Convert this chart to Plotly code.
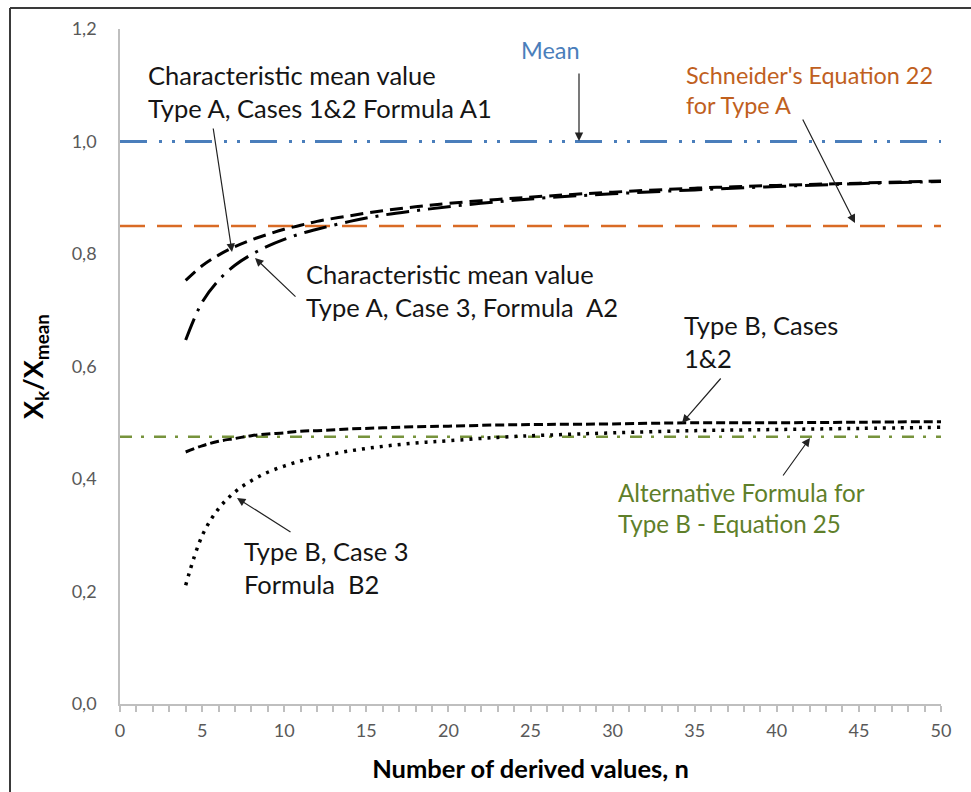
import plotly.graph_objects as go

# Number of derived values
n_values = [4, 5, 6, 7, 8, 9, 10, 11, 12, 14, 16, 18, 20, 23, 26, 30, 35, 40, 45, 50]

# Characteristic mean value, Type A, Cases 1&2 (Formula A1)
type_a_cases12 = [0.753, 0.779, 0.798, 0.813, 0.825, 0.835, 0.844, 0.851, 0.858, 0.868,
                  0.877, 0.884, 0.890, 0.897, 0.903, 0.910, 0.917, 0.922, 0.926, 0.930]
# Characteristic mean value, Type A, Case 3 (Formula A2)
type_a_case3 = [0.647, 0.714, 0.753, 0.780, 0.799, 0.814, 0.826, 0.836, 0.844, 0.858,
                0.869, 0.877, 0.884, 0.893, 0.900, 0.907, 0.914, 0.920, 0.925, 0.929]
# Type B, Cases 1&2
type_b_cases12 = [0.448, 0.459, 0.467, 0.472, 0.477, 0.480, 0.482, 0.485, 0.486, 0.489,
                  0.491, 0.493, 0.494, 0.496, 0.497, 0.498, 0.500, 0.500, 0.501, 0.502]
# Type B, Case 3 (Formula B2)
type_b_case3 = [0.211, 0.299, 0.347, 0.377, 0.397, 0.412, 0.423, 0.432, 0.439, 0.450,
                0.458, 0.464, 0.468, 0.474, 0.478, 0.482, 0.486, 0.488, 0.490, 0.492]

# Constant reference levels across the whole n range
level_span = [0, 50]
mean_level = 1.0
schneider_eq22 = 0.85
alt_formula_eq25 = 0.475

x_ticks = [0, 5, 10, 15, 20, 25, 30, 35, 40, 45, 50]
y_ticks = [0.0, 0.2, 0.4, 0.6, 0.8, 1.0, 1.2]

BLUE = "#4a7ebb"
ORANGE = "#d96b25"
ORANGE_TXT = "#c0601e"
GREEN = "#77933c"
GREEN_TXT = "#5f7f2a"
INK = "#151515"
FONT = "Lato, 'Liberation Sans', sans-serif"

# Plot-area edges in page pixels, used to place labels and arrows
PL, PR, PT, PB = 120, 941, 29, 704


def px_x(px):
    return (px - PL) / (PR - PL)


def px_y(py):
    return (PB - py) / (PB - PT)


fig = go.Figure()

fig.add_trace(go.Scatter(x=level_span, y=[mean_level] * 2, mode="lines",
                         line=dict(color=BLUE, width=3, dash="27px,12px,3px,10px,3px,10px")))
fig.add_trace(go.Scatter(x=level_span, y=[schneider_eq22] * 2, mode="lines",
                         line=dict(color=ORANGE, width=2.5, dash="25px,12px")))
fig.add_trace(go.Scatter(x=level_span, y=[alt_formula_eq25] * 2, mode="lines",
                         line=dict(color=GREEN, width=2.5, dash="12px,9px,3px,10px")))

fig.add_trace(go.Scatter(x=n_values, y=type_a_cases12, mode="lines", line_shape="spline",
                         line=dict(color="black", width=3, dash="13px,7px")))
fig.add_trace(go.Scatter(x=n_values, y=type_a_case3, mode="lines", line_shape="spline",
                         line=dict(color="black", width=3, dash="23px,8px,3px,8px")))
fig.add_trace(go.Scatter(x=n_values, y=type_b_cases12, mode="lines", line_shape="spline",
                         line=dict(color="black", width=3, dash="9px,4px")))
fig.add_trace(go.Scatter(x=n_values, y=type_b_case3, mode="lines", line_shape="spline",
                         line=dict(color="black", width=3.5, dash="3px,6px")))

annotations = []

# Text labels: (text, left px, centre px, colour, size, xanchor)
labels = [
    ("Characteristic mean value<br>Type A, Cases 1&2 Formula A1", 146, 91, INK, 25.5, "left"),
    ("Characteristic mean value<br>Type A, Case 3, Formula  A2", 304, 290, INK, 25.5, "left"),
    ("Mean", 550, 50, BLUE, 23.5, "center"),
    ("Schneider's Equation 22<br>for Type A", 684, 90, ORANGE_TXT, 23.4, "left"),
    ("Type B, Cases<br>1&2", 682, 341, INK, 25.5, "left"),
    ("Alternative Formula for<br>Type B - Equation 25", 616, 508, GREEN_TXT, 24.2, "left"),
    ("Type B, Case 3<br>Formula  B2", 242, 567, INK, 25.5, "left"),
]
for text, lx, cy, col, size, xa in labels:
    annotations.append(dict(text=text, xref="paper", yref="paper", x=px_x(lx), y=px_y(cy),
                            xanchor=xa, yanchor="middle", align="left", showarrow=False,
                            font=dict(family=FONT, size=size, color=col)))

# Pointer arrows: tip (px), tail offset (px)
arrows = [
    (232, 252, -19, -125),
    (255, 258, 42, 40),
    (579, 141, 0, -69),
    (855, 223, -53, -105),
    (682, 423, 40, -46),
    (810, 438, -28, 39),
    (237, 498, 55, 35),
]
for tx, ty, ax, ay in arrows:
    annotations.append(dict(text="", xref="paper", yref="paper", x=px_x(tx), y=px_y(ty),
                            ax=ax, ay=ay, showarrow=True, arrowhead=2, arrowsize=1.4,
                            arrowwidth=1.2, arrowcolor="#222222"))

fig.update_layout(
    width=971, height=792,
    margin=dict(l=PL, r=971 - PR, t=PT, b=792 - PB),
    paper_bgcolor="white", plot_bgcolor="white",
    showlegend=False,
    separators=", ",
    font=dict(family=FONT, color="#595959"),
    annotations=annotations,
    shapes=[
        dict(type="line", xref="paper", yref="paper", x0=px_x(10), x1=px_x(975),
             y0=px_y(8), y1=px_y(8), line=dict(color="#3a3a3a", width=2)),
        dict(type="line", xref="paper", yref="paper", x0=px_x(10), x1=px_x(10),
             y0=px_y(8), y1=px_y(800), line=dict(color="#3a3a3a", width=2)),
    ],
)

fig.update_xaxes(
    range=[0, 50], tickvals=x_ticks, showgrid=False, zeroline=False,
    showline=True, linecolor="#bfbfbf", linewidth=1.5,
    ticks="outside", ticklen=6, tickcolor="#bfbfbf", tickwidth=1.5,
    minor=dict(dtick=1, ticks="outside", ticklen=6, tickcolor="#bfbfbf", tickwidth=1.5),
    tickfont=dict(size=18, color="#595959"), ticklabelstandoff=4,
    title=dict(text="<b>Number of derived values, n</b>", standoff=20,
               font=dict(size=25.5, color="black")),
)
fig.update_yaxes(
    range=[0, 1.2], tickvals=y_ticks, tickformat=".1f", showgrid=False, zeroline=False,
    showline=True, linecolor="#bfbfbf", linewidth=1.5, ticks="",
    tickfont=dict(size=18, color="#595959"), ticklabelstandoff=18,
    title=dict(text="<b>X<sub>k</sub>/X<sub>mean</sub></b>", standoff=20,
               font=dict(size=27, color="black")),
)

fig.write_html("out.html")
